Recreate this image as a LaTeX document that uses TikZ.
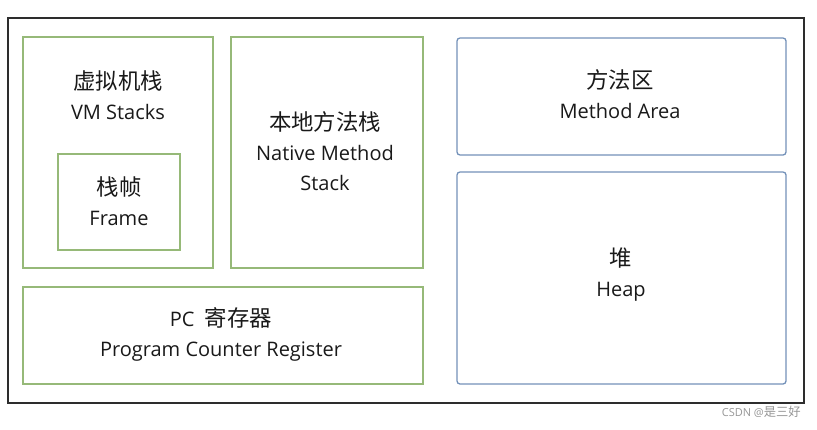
\documentclass[tikz,border=0pt]{standalone}
\usepackage{fontspec}
\setmainfont{Open Sans}
\newfontfamily\cjk[Scale=1.12]{Noto Sans CJK SC}
\definecolor{gbox}{RGB}{150,185,120}
\definecolor{bbox}{RGB}{115,145,185}
\definecolor{obox}{RGB}{45,45,45}
\definecolor{wm}{RGB}{150,150,150}
\begin{document}
\begin{tikzpicture}[x=1pt,y=-1pt,
  gr/.style={draw=gbox,line width=1.3pt,inner sep=0pt},
  bl/.style={draw=bbox,line width=1.3pt,inner sep=0pt,rounded corners=3pt},
  lbl/.style={align=center,font=\fontsize{20}{30}\selectfont,text=black!90,inner sep=0pt}]
\useasboundingbox (0,0) rectangle (817,429);
\node[draw=obox,line width=1.6pt,minimum width=796pt,minimum height=385pt,inner sep=0pt] (outer) at (406,210.5) {};
\node[gr,minimum width=190pt,minimum height=231pt] (vm) at (118,152.5) {};
\node[gr,minimum width=122pt,minimum height=96pt] (frame) at (119,202) {};
\node[gr,minimum width=192pt,minimum height=231pt] (nat) at (327,152.5) {};
\node[gr,minimum width=400pt,minimum height=97pt] (pc) at (223,335.5) {};
\node[bl,minimum width=329pt,minimum height=117pt] (ma) at (621.5,96.5) {};
\node[bl,minimum width=329pt,minimum height=212pt] (heap) at (621.5,278) {};
\node[lbl] (vmt) at (118,95) {{\cjk 虚拟机栈}\\VM Stacks};
\node[lbl] (frt) at (119,201) {{\cjk 栈帧}\\Frame};
\node[lbl] (natt) at (325,151) {{\cjk 本地方法栈}\\Native Method\\Stack};
\node[lbl] (mat) at (620,94) {{\cjk 方法区}\\Method Area};
\node[lbl] (heapt) at (621,275) {{\cjk 堆}\\Heap};
\node[lbl] (pct) at (221,334) {PC\ \ {\cjk 寄存器}\\Program Counter Register};
\node[font=\fontsize{11}{13}\selectfont,text=wm,anchor=east,inner sep=0pt] (wmk) at (801,412) {CSDN @{\cjk 是三好}};
\end{tikzpicture}
\end{document}
